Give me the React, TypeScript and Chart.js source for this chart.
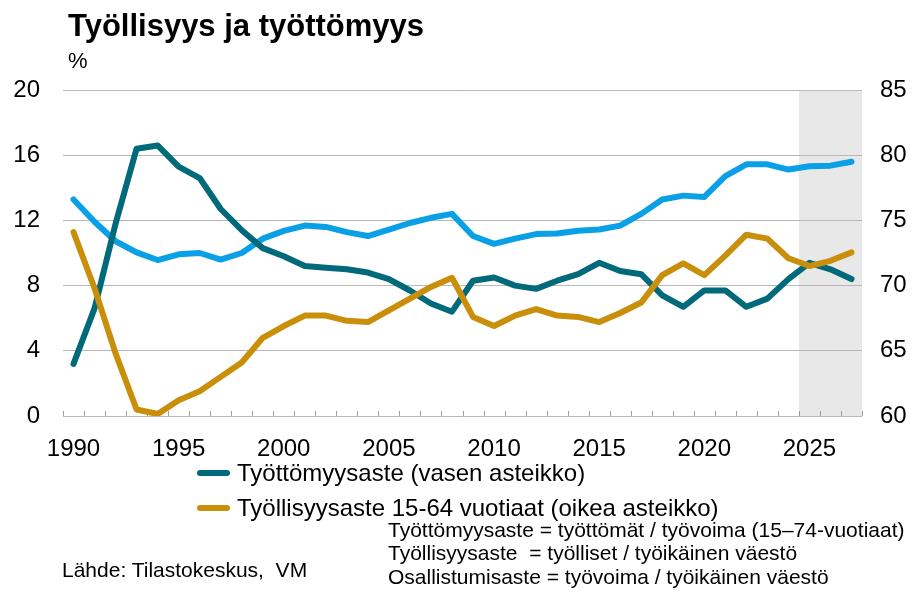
import { useEffect, useRef } from 'react';
import { Chart, registerables } from 'chart.js';

Chart.register(...registerables);

const years = [
  '1990', '1991', '1992', '1993', '1994', '1995', '1996', '1997', '1998', '1999',
  '2000', '2001', '2002', '2003', '2004', '2005', '2006', '2007', '2008', '2009',
  '2010', '2011', '2012', '2013', '2014', '2015', '2016', '2017', '2018', '2019',
  '2020', '2021', '2022', '2023', '2024', '2025', '2026', '2027',
];

const xTickLabels = ['1990', '1995', '2000', '2005', '2010', '2015', '2020', '2025'];
const forecastYears = ['2025', '2026', '2027'];

// Työttömyysaste, % (vasen asteikko)
const unemployment = [
  3.2, 6.6, 11.8, 16.4, 16.6, 15.3, 14.6, 12.7, 11.4, 10.3,
  9.8, 9.2, 9.1, 9.0, 8.8, 8.4, 7.7, 6.9, 6.4, 8.3,
  8.5, 8.0, 7.8, 8.3, 8.7, 9.4, 8.9, 8.7, 7.4, 6.7,
  7.7, 7.7, 6.7, 7.2, 8.4, 9.4, 9.0, 8.4,
];

// Työllisyysaste 15-64, % (oikea asteikko)
const employment = [
  74.1, 69.8, 64.8, 60.5, 60.15, 61.2, 61.9, 63.0, 64.1, 66.0,
  66.9, 67.7, 67.7, 67.3, 67.2, 68.1, 69.0, 69.9, 70.6, 67.6,
  66.9, 67.7, 68.2, 67.7, 67.6, 67.2, 67.9, 68.7, 70.8, 71.7,
  70.8, 72.3, 73.9, 73.6, 72.1, 71.5, 71.9, 72.55,
];

// Osallistumisaste, % (oikea asteikko)
const participation = [
  76.6, 74.9, 73.4, 72.55, 71.96, 72.4, 72.5, 72.0, 72.5, 73.6,
  74.2, 74.6, 74.5, 74.1, 73.8, 74.3, 74.8, 75.2, 75.5, 73.8,
  73.2, 73.6, 73.95, 74.0, 74.2, 74.3, 74.6, 75.5, 76.6, 76.9,
  76.8, 78.4, 79.3, 79.3, 78.9, 79.15, 79.2, 79.5,
];

const leftMin = 0;
const leftMax = 20;
const leftStep = 4;
const rightMin = 60;
const rightMax = 85;
const rightStep = 5;

const TEAL = '#006A7A';
const GOLD = '#C98F0A';
const BLUE = '#0AA0E6';
const GRID = '#b8b8b8';
const FONT = "'Liberation Sans', Arial, Helvetica, sans-serif";

const boundaries = (chart: any) => {
  const x = chart.scales.x;
  const p0 = x.getPixelForValue(0);
  const p1 = x.getPixelForValue(1);
  const step = p1 - p0;
  const out: number[] = [];
  for (let i = 0; i <= years.length; i++) out.push(p0 - step / 2 + i * step);
  return out;
};

const shadePlugin = {
  id: 'forecastShade',
  beforeDraw(chart: any) {
    const area = chart.chartArea;
    const b = boundaries(chart);
    const idx = years.indexOf(forecastYears[0]);
    const x0 = b[idx];
    const ctx = chart.ctx;
    ctx.save();
    ctx.fillStyle = '#e8e8e8';
    ctx.fillRect(x0, area.top, area.right - x0, area.bottom - area.top);
    ctx.restore();
  },
};

const ticksPlugin = {
  id: 'innerTicks',
  beforeDatasetsDraw(chart: any) {
    const area = chart.chartArea;
    const b = boundaries(chart);
    const ctx = chart.ctx;
    ctx.save();
    ctx.strokeStyle = '#a0a0a0';
    ctx.lineWidth = 1;
    ctx.beginPath();
    b.forEach((bx) => {
      const px = Math.round(bx) + 0.5;
      ctx.moveTo(px, Math.round(area.bottom));
      ctx.lineTo(px, Math.round(area.bottom) - 5);
    });
    ctx.stroke();
    ctx.restore();
  },
};

const lineStyle = {
  borderWidth: 6,
  pointRadius: 0,
  tension: 0,
  borderJoinStyle: 'round' as const,
  borderCapStyle: 'round' as const,
};

function ChartCanvas() {
  const ref = useRef<HTMLCanvasElement | null>(null);
  useEffect(() => {
    if (!ref.current) return;
    Chart.defaults.font.family = FONT;
    const chart = new Chart(ref.current, {
      type: 'line',
      data: {
        labels: years,
        datasets: [
          {
            label: 'Työllisyysaste 15-64 vuotiaat (oikea asteikko)',
            data: employment,
            yAxisID: 'y1',
            borderColor: GOLD,
            backgroundColor: GOLD,
            ...lineStyle,
          },
          {
            label: 'Työttömyysaste (vasen asteikko)',
            data: unemployment,
            yAxisID: 'y',
            borderColor: TEAL,
            backgroundColor: TEAL,
            ...lineStyle,
          },
          {
            label: 'Osallistumisaste',
            data: participation,
            yAxisID: 'y1',
            borderColor: BLUE,
            backgroundColor: BLUE,
            ...lineStyle,
          },
        ],
      },
      options: {
        animation: false,
        responsive: false,
        maintainAspectRatio: false,
        events: [],
        layout: { padding: { top: 90, bottom: 135, left: 0, right: 0 } },
        plugins: {
          legend: { display: false },
          tooltip: { enabled: false },
          title: { display: false },
        },
        scales: {
          x: {
            type: 'category',
            offset: true,
            grid: { display: false, drawTicks: false, offset: true },
            border: { display: false },
            ticks: {
              autoSkip: false,
              maxRotation: 0,
              minRotation: 0,
              padding: 19,
              color: '#000',
              font: { size: 24 },
              callback: (_v: any, i: number) =>
                xTickLabels.includes(years[i]) ? years[i] : '',
            },
            afterFit: (s: any) => {
              s.height = 40;
            },
          },
          y: {
            position: 'left',
            min: leftMin,
            max: leftMax,
            grid: { color: GRID, drawTicks: false, lineWidth: 1 },
            border: { display: false },
            ticks: {
              stepSize: leftStep,
              padding: 23,
              color: '#000',
              font: { size: 24 },
            },
            afterFit: (s: any) => {
              s.width = 63;
            },
          },
          y1: {
            position: 'right',
            min: rightMin,
            max: rightMax,
            grid: { display: false, drawTicks: false },
            border: { display: false },
            ticks: {
              stepSize: rightStep,
              padding: 18,
              color: '#000',
              font: { size: 24 },
            },
            afterFit: (s: any) => {
              s.width = 57;
            },
          },
        },
      },
      plugins: [shadePlugin, ticksPlugin],
    });
    return () => chart.destroy();
  }, []);
  return <canvas ref={ref} width={919} height={591} style={{ position: 'absolute', left: 0, top: 0, width: 919, height: 591 }} />;
}

const textBase: any = {
  position: 'absolute',
  whiteSpace: 'nowrap',
  color: '#000',
  fontFamily: FONT,
};

export default function App() {
  return (
    <div style={{ position: 'fixed', left: 0, top: 0, width: 919, height: 591, background: '#fff', overflow: 'hidden' }}>
      <ChartCanvas />
      <div style={{ ...textBase, left: 68, top: 10, fontSize: 31, lineHeight: '31px', fontWeight: 'bold' }}>
        Työllisyys ja työttömyys
      </div>
      <div style={{ ...textBase, left: 68, top: 50, fontSize: 22, lineHeight: '22px' }}>%</div>

      <div style={{ position: 'absolute', left: 197, top: 470, width: 33, height: 6, borderRadius: 3, background: TEAL }} />
      <div style={{ ...textBase, left: 237, top: 461, fontSize: 24, lineHeight: '24px' }}>
        Työttömyysaste (vasen asteikko)
      </div>
      <div style={{ position: 'absolute', left: 197, top: 505, width: 33, height: 6, borderRadius: 3, background: GOLD }} />
      <div style={{ ...textBase, left: 237, top: 496, fontSize: 24, lineHeight: '24px' }}>
        Työllisyysaste 15-64 vuotiaat (oikea asteikko)
      </div>

      <div style={{ ...textBase, left: 388, top: 519, fontSize: 21, lineHeight: '21px' }}>
        Työttömyysaste = työttömät / työvoima (15–74-vuotiaat)
      </div>
      <div style={{ ...textBase, left: 388, top: 542, fontSize: 21, lineHeight: '21px' }}>
        Työllisyysaste&nbsp; = työlliset / työikäinen väestö
      </div>
      <div style={{ ...textBase, left: 388, top: 566, fontSize: 21, lineHeight: '21px' }}>
        Osallistumisaste = työvoima / työikäinen väestö
      </div>
      <div style={{ ...textBase, left: 62, top: 559, fontSize: 21, lineHeight: '21px' }}>
        Lähde: Tilastokeskus,&nbsp; VM
      </div>
    </div>
  );
}
